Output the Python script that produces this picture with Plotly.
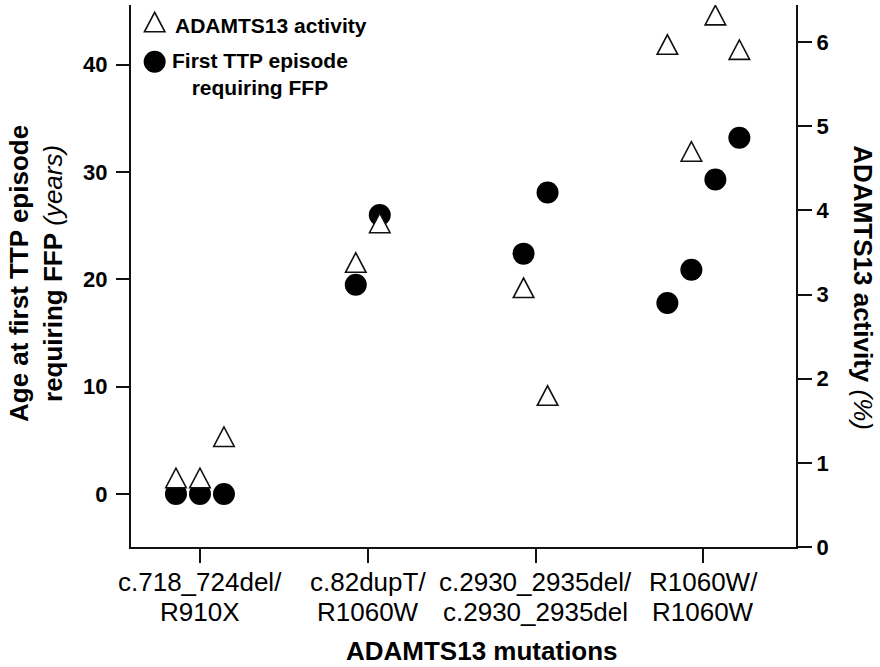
import plotly.graph_objects as go

# Genotype groups along the x axis
mutations = [
    "c.718_724del/<br>R910X",
    "c.82dupT/<br>R1060W",
    "c.2930_2935del/<br>c.2930_2935del",
    "R1060W/<br>R1060W",
]

# One entry per patient, ordered left to right inside each group
patient_group = [0, 0, 0, 1, 1, 2, 2, 3, 3, 3, 3]
age_first_ttp = [0, 0, 0, 19.5, 26.0, 22.4, 28.1, 17.8, 20.9, 29.3, 33.2]      # years
adamts13_activity = [0.82, 0.82, 1.31, 3.38, 3.85, 3.08, 1.80, 5.97, 4.70, 6.32, 5.91]  # %

age_ticks = [0, 10, 20, 30, 40]
activity_ticks = [0, 1, 2, 3, 4, 5, 6]

FONT = "Liberation Sans"
INK = "#111111"
JITTER = 0.143  # horizontal spread between patients of the same group

# spread the patients of each group symmetrically around the group tick
x_pos = []
for i, g in enumerate(patient_group):
    members = [k for k, gg in enumerate(patient_group) if gg == g]
    slot = members.index(i) - (len(members) - 1) / 2
    x_pos.append(g + slot * JITTER)

fig = go.Figure()

fig.add_trace(go.Scatter(
    x=x_pos, y=age_first_ttp, mode="markers", yaxis="y",
    name="First TTP episode requiring FFP",
    marker=dict(symbol="circle", size=22, color="black", line=dict(width=0)),
    showlegend=False,
    hovertemplate="Age %{y} y<extra></extra>",
))

# activity values live on the right axis; the visible triangles are drawn as shapes
fig.add_trace(go.Scatter(
    x=x_pos, y=adamts13_activity, mode="markers", yaxis="y2",
    name="ADAMTS13 activity",
    marker=dict(size=20, opacity=0),
    showlegend=False,
    hovertemplate="ADAMTS13 %{y} %<extra></extra>",
))

TRI = "M -10.25,-9.75 L 10.25,-9.75 L 0,9.75 Z"
shapes = []
for xv, av in zip(x_pos, adamts13_activity):
    shapes.append(dict(
        type="path", xref="x", yref="y2",
        xsizemode="pixel", ysizemode="pixel", xanchor=xv, yanchor=av,
        path=TRI, fillcolor="white", line=dict(color=INK, width=1.6),
        layer="above",
    ))

# key in the top-left corner
shapes.append(dict(
    type="path", xref="paper", yref="paper",
    xsizemode="pixel", ysizemode="pixel", xanchor=0.0356, yanchor=0.9686,
    path=TRI, fillcolor="white", line=dict(color=INK, width=1.6), layer="above",
))
shapes.append(dict(
    type="circle", xref="paper", yref="paper",
    xsizemode="pixel", ysizemode="pixel", xanchor=0.0356, yanchor=0.8954,
    x0=-11, x1=11, y0=-11, y1=11, fillcolor="black", line=dict(width=0),
    layer="above",
))

annotations = [
    dict(text="<b>ADAMTS13 activity</b>", xref="paper", yref="paper",
         x=0.0627, y=0.963, xanchor="left", yanchor="middle", showarrow=False,
         font=dict(family=FONT, size=21, color="black")),
    dict(text="<b>First TTP episode<br>requiring FFP</b>", xref="paper", yref="paper",
         x=0.1947, y=0.8718, xanchor="center", yanchor="middle", align="center",
         showarrow=False, font=dict(family=FONT, size=21, color="black")),
    # axis titles
    dict(text="<b>ADAMTS13 mutations</b>", xref="paper", yref="paper",
         x=0.5274, y=-0.1919, xanchor="center", yanchor="middle", showarrow=False,
         font=dict(family=FONT, size=26, color="black")),
    dict(text="<b>Age at first TTP episode<br>requiring FFP</b> <i>(years)</i>",
         xref="paper", yref="paper", x=-0.1429, y=0.5055, xanchor="center",
         yanchor="middle", align="center", textangle=-90, showarrow=False,
         font=dict(family=FONT, size=26, color="black")),
    dict(text="<b>ADAMTS13 activity</b> <i>(%)</i>", xref="paper", yref="paper",
         x=1.1007, y=0.4773, xanchor="center", yanchor="middle", textangle=90,
         showarrow=False, font=dict(family=FONT, size=26, color="black")),
]

# two-line group labels under the x ticks
LABEL_ROWS = [-0.0646, -0.1199]
for gi, label in enumerate(mutations):
    for li, line in enumerate(label.split("<br>")):
        annotations.append(dict(
            text=line, xref="x", yref="paper", x=gi, y=LABEL_ROWS[li],
            xanchor="center", yanchor="middle", showarrow=False,
            font=dict(family=FONT, size=26, color="black"),
        ))

axis_common = dict(
    showline=True, linewidth=2, linecolor=INK, ticks="outside", tickwidth=2,
    tickcolor=INK, showgrid=False, zeroline=False, fixedrange=True,
)

fig.update_layout(
    width=880, height=667,
    margin=dict(l=131, r=84, t=5, b=120),
    paper_bgcolor="white", plot_bgcolor="white",
    showlegend=False,
    shapes=shapes, annotations=annotations,
    xaxis=dict(range=[-0.411, 3.552], tickvals=list(range(len(mutations))),
               showticklabels=False, ticklen=14, **axis_common),
    yaxis=dict(range=[-4.94, 45.57], tickvals=age_ticks, ticklen=13,
               ticklabelstandoff=4,
               tickfont=dict(family=FONT, size=22, weight="bold", color="black"),
               **axis_common),
    yaxis2=dict(range=[0, 6.44], tickvals=activity_ticks, overlaying="y",
                side="right", anchor="x", ticklen=14,
                tickfont=dict(family=FONT, size=22, weight="bold", color="black"),
                **axis_common),
)

fig.write_html("out.html")
